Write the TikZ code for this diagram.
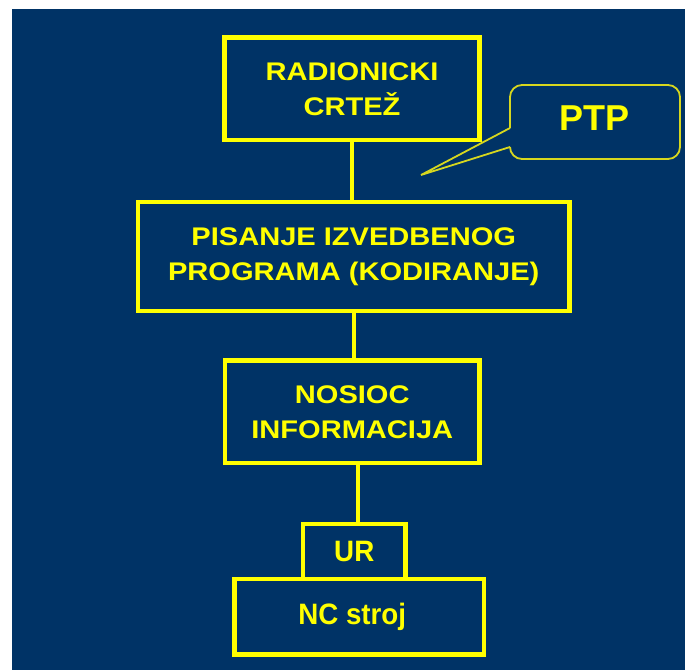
\documentclass[tikz,border=0pt]{standalone}
\usepackage{fontspec}
\newfontfamily\boxfont{Liberation Sans}[FakeStretch=1.14]
\newfontfamily\narrowfont{Liberation Sans}[FakeStretch=0.94]
\newfontfamily\plainfont{Liberation Sans}
\definecolor{bgblue}{RGB}{0,51,102}
\definecolor{ylw}{RGB}{255,255,0}
\definecolor{calloutline}{RGB}{215,215,30}
\tikzset{
  stepbox/.style={draw=ylw, line width=4.6pt, rectangle, inner sep=0pt,
    text=ylw, align=center, font=\boxfont\bfseries\fontsize{25.5}{35}\selectfont},
  smallbox/.style={stepbox, font=\narrowfont\bfseries\fontsize{29.5}{35}\selectfont},
  link/.style={draw=ylw, line width=4pt},
}
\begin{document}
\begin{tikzpicture}[x=1pt,y=-1pt]
\useasboundingbox (0,0) rectangle (685,670);
\fill[bgblue] (12,9) rectangle (685,670);

\node[stepbox, minimum width=255pt, minimum height=102.5pt] (rad) at (352,88.75) {RADIONICKI\\CRTEŽ};
\node[stepbox, minimum width=431.5pt, minimum height=109pt] (pis) at (353.75,256.5) {PISANJE IZVEDBENOG\\PROGRAMA (KODIRANJE)};
\node[stepbox, minimum width=254.5pt, minimum height=102.5pt] (nos) at (352.25,411.75) {NOSIOC\\INFORMACIJA};
\node[smallbox, minimum width=102.5pt, minimum height=55pt] (ur) at (354.25,551.5) {UR};
\node[smallbox, minimum width=249.6pt, minimum height=75.3pt] (nc) at (359.2,616.7) {NC stroj\hspace*{14pt}};

\draw[link] (rad.south) -- (rad.south |- pis.north);
\draw[link] ([xshift=2pt]nos.north) -- ([xshift=2pt]nos.north |- pis.south);
\draw[link] ([xshift=4pt]ur.north) -- ([xshift=4pt]ur.north |- nos.south);

% callout
\node[text=ylw, font=\plainfont\bfseries\fontsize{36}{40}\selectfont, inner sep=0pt] (ptp) at (594,118) {PTP};
\coordinate (tip) at (421,175);
\draw[calloutline, line width=1.8pt, rounded corners=12pt]
  (510,128) -- (510,85) -- (680,85) -- (680,159) -- (510,159) -- (510,147);
\draw[calloutline, line width=1.8pt, line join=miter] (510,128) -- (tip) -- (510,147);
\end{tikzpicture}
\end{document}
